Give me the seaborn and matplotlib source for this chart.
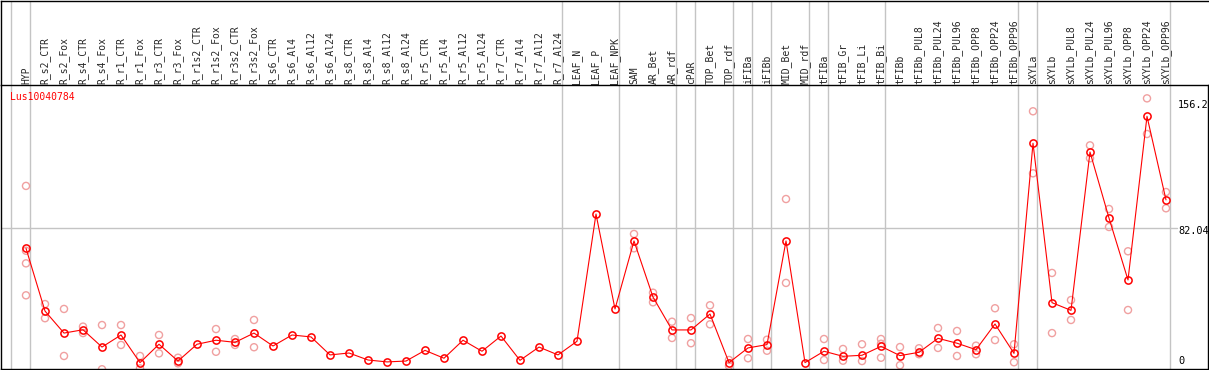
import matplotlib
matplotlib.use('Agg')
import numpy as np
import pandas as pd
import matplotlib.pyplot as plt
import seaborn as sns

# 样本名称
samples = ['HYP', 'R_s2_CTR', 'R_s2_Fox', 'R_s4_CTR', 'R_s4_Fox', 'R_r1_CTR', 'R_r1_Fox',
           'R_r3_CTR', 'R_r3_Fox', 'R_r1s2_CTR', 'R_r1s2_Fox', 'R_r3s2_CTR', 'R_r3s2_Fox',
           'R_s6_CTR', 'R_s6_Al4', 'R_s6_Al12', 'R_s6_Al24', 'R_s8_CTR', 'R_s8_Al4',
           'R_s8_Al12', 'R_s8_Al24', 'R_r5_CTR', 'R_r5_Al4', 'R_r5_Al12', 'R_r5_Al24',
           'R_r7_CTR', 'R_r7_Al4', 'R_r7_Al12', 'R_r7_Al24', 'LEAF_N', 'LEAF_P', 'LEAF_NPK',
           'SAM', 'AR_Bet', 'AR_rdf', 'cPAR', 'TOP_Bet', 'TOP_rdf', 'iFIBa', 'iFIBb',
           'MID_Bet', 'MID_rdf', 'tFIBa', 'tFIB_Gr', 'tFIB_Li', 'tFIB_Bi', 'tFIBb',
           'tFIBb_PUL8', 'tFIBb_PUL24', 'tFIBb_PUL96', 'tFIBb_OPP8', 'tFIBb_OPP24',
           'tFIBb_OPP96', 'sXYLa', 'sXYLb', 'sXYLb_PUL8', 'sXYLb_PUL24', 'sXYLb_PUL96',
           'sXYLb_OPP8', 'sXYLb_OPP24', 'sXYLb_OPP96']

# 每组样本数 (组之间画灰色竖线)
group_sizes = [1, 28, 3, 3, 1, 2, 1, 1, 2, 1, 3, 7, 1, 7]

# 平均表达量
means = [70.6, 34.7, 22.1, 24.0, 14.1, 21.0, 5.2, 15.7, 6.1, 15.7,
         18.0, 16.8, 22.1, 14.7, 21.0, 19.9, 9.6, 10.7, 6.7, 5.6,
         6.1, 12.2, 7.7, 18.0, 11.7, 20.4, 6.5, 14.1, 9.6, 17.4,
         90.2, 35.9, 74.8, 42.7, 23.9, 23.9, 33.0, 5.2, 13.6, 15.5,
         74.8, 5.2, 11.7, 8.8, 9.4, 14.5, 9.2, 11.1, 19.1, 16.3,
         12.6, 27.3, 10.5, 130.7, 39.5, 35.1, 125.7, 87.9, 52.5, 146.1,
         98.3]

# 重复样本
replicates = [[106.3, 69.2, 62.0, 43.7], [38.7, 30.6], [35.9, 9.0], [25.8, 22.1],
              [26.7, 1.4], [26.7, 15.3], [9.0, 1.9], [21.0, 10.5], [8.0, 4.8], [],
              [24.4, 11.4], [18.7, 15.3], [29.6, 14.0], [], [], [], [], [], [], [],
              [], [], [], [], [], [], [], [], [], [],
              [], [], [78.8, 70.6], [45.2, 39.7], [28.6, 19.3], [30.7, 16.3],
              [38.0, 27.1], [6.7, 3.3], [18.7, 7.7], [18.3, 12.0],
              [98.8, 50.8], [], [18.7, 6.7], [13.0, 6.3], [15.7, 6.1], [18.7, 16.0, 8.0],
              [14.1, 3.7], [13.4, 10.0], [25.0, 13.6], [23.3, 9.0],
              [14.9, 10.0], [36.3, 18.1], [15.7, 5.4], [149.0, 113.5], [56.5, 22.1],
              [41.0, 29.6], [129.5, 122.1], [93.1, 82.8], [68.9, 35.3], [156.4, 136.0],
              [102.8, 93.5]]

gene = 'Lus10040784'
y_max = 156.2
y_mid = 82.04

# 长表
rep_df = pd.DataFrame([(i, v) for i, vals in enumerate(replicates) for v in vals],
                      columns=['pos', 'value'])
mean_df = pd.DataFrame({'pos': np.arange(len(samples)), 'value': means})

sns.set_theme(style='white')
plt.rcParams['font.family'] = ['DejaVu Sans Mono', 'DejaVu Sans']

W, H = 1209, 370
fig = plt.figure(figsize=(W / 100, H / 100), dpi=100)

# 像素布局
x0, x_step = 26, 19          # 第一个样本的像素位置和间距
px_left, px_right = 1, 1208
px_head, px_bottom = 85, 369
y_zero_px = 371.7
y_scale = (y_zero_px - 98.7) / y_max

xlim = ((px_left - x0) / x_step, (px_right - x0) / x_step)

ax = fig.add_axes([px_left / W, (H - px_bottom) / H,
                   (px_right - px_left) / W, (px_bottom - px_head) / H])
hax = fig.add_axes([px_left / W, (H - px_head) / H,
                    (px_right - px_left) / W, (px_head - 0.5) / H])

gray = '#c4c4c4'
pink = '#f0a0a0'

# 组分隔线
bounds = [-1] + list(np.cumsum(group_sizes) - 1)
for b in bounds:
    for a in (ax, hax):
        a.axvline(b + 0.23, color=gray, lw=1.0, zorder=0)

ax.axhline(y_mid, xmax=(1177 - px_left) / (px_right - px_left), color=gray, lw=1.0, zorder=0)

sns.scatterplot(data=rep_df, x='pos', y='value', ax=ax, marker='o', s=26,
                color=pink, facecolor='none', edgecolor=pink, linewidth=1.0, zorder=2)
sns.lineplot(data=mean_df, x='pos', y='value', ax=ax, color='red', lw=0.8, sort=False,
             marker='o', markersize=5.2, markerfacecolor='none', markeredgecolor='red',
             markeredgewidth=1.1, zorder=3)

ax.set_xlim(*xlim)
ax.set_ylim((y_zero_px - px_bottom) / y_scale, (y_zero_px - px_head) / y_scale)
ax.set_xlabel('')
ax.set_ylabel('')
ax.set_xticks([])
ax.set_yticks([])
for s in ax.spines.values():
    s.set_color('black')
    s.set_linewidth(1.0)
ax.spines['top'].set_visible(False)

# 右侧刻度文字
for val, lab, dy in [(y_max, '156.2', -6), (y_mid, '82.04', -2.4), (0, '0', 11)]:
    ax.annotate(lab, xy=(1, val), xycoords=('axes fraction', 'data'),
                xytext=(-30, dy), textcoords='offset pixels',
                ha='left', va='center', fontsize=7.4, color='black')

ax.text(10, 97, gene, transform=None, color='red', fontsize=7, ha='left', va='center')
# transform=None 使用显示坐标（从左下）
ax.texts[-1].set_position((10, H - 97))

# 表头
hax.set_xlim(*xlim)
hax.set_ylim(px_head, 0.5)
hax.set_xticks([])
hax.set_yticks([])
for s in hax.spines.values():
    s.set_color('black')
    s.set_linewidth(1.0)
hax.spines['right'].set_visible(False)
for i, name in enumerate(samples):
    hax.text(i, 83.5, name, rotation=90, ha='center', va='bottom', fontsize=7)

fig.savefig('out.png', dpi=100)
